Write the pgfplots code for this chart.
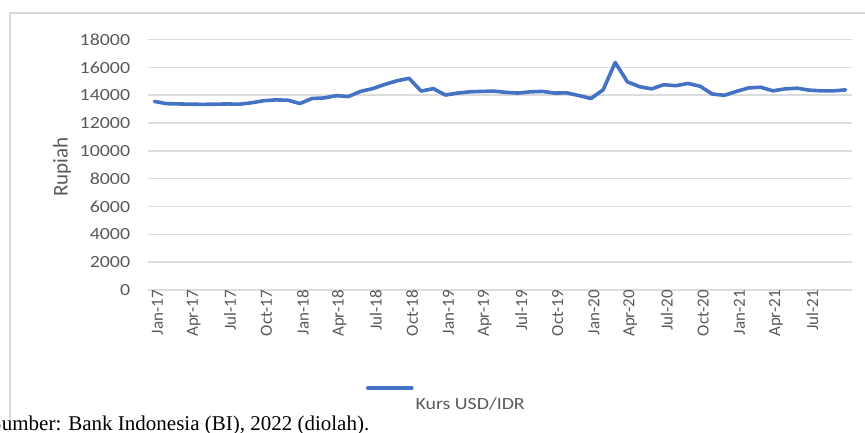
\documentclass[border=0pt]{standalone}
\usepackage{fontspec}
\setmainfont{Carlito}[FakeStretch=1.17]
\newfontfamily\rotfont{Carlito}
\newfontfamily\capfont{Liberation Serif}
\usepackage{pgfplots}
\pgfplotsset{compat=1.18}
\definecolor{xlblue}{HTML}{4472C4}
\definecolor{xlgrid}{HTML}{DCDCDC}
\definecolor{xltext}{HTML}{595959}
\definecolor{xlborder}{HTML}{D9D9D9}
\begin{document}
\begin{tikzpicture}[x=1pt,y=1pt]
\clip (0,0) rectangle (865,433);
\path (0,0) rectangle (865,433);
\draw[xlborder,line width=1.2pt] (10,14) -- (10,420) -- (870,420);
\begin{axis}[
  at={(148.3pt,143pt)}, anchor=south west,
  scale only axis, width=703.4pt, height=250.5pt,
  xmin=-0.5, xmax=57.5, ymin=0, ymax=18000,
  ytick={0,2000,...,18000},
  scaled y ticks=false,
  xtick={0,3,...,54},
  xticklabels={Jan-17,Apr-17,Jul-17,Oct-17,Jan-18,Apr-18,Jul-18,Oct-18,Jan-19,Apr-19,Jul-19,Oct-19,Jan-20,Apr-20,Jul-20,Oct-20,Jan-21,Apr-21,Jul-21},
  ymajorgrids,
  grid style={xlgrid,line width=1.5pt},
  axis line style={draw=none},
  major tick length=0pt,
  /pgf/number format/assume math mode=true,
  /pgf/number format/1000 sep={},
  /pgf/number format/fixed,
  yticklabel style={font=\fontsize{17}{17}\selectfont, text=xltext, anchor=east, inner sep=0pt, xshift=-18pt},
  xticklabel style={font=\rotfont\fontsize{17}{17}\selectfont, text=xltext, rotate=90, anchor=east, inner sep=0pt, yshift=-3pt},
  ylabel={Rupiah},
  ylabel style={font=\rotfont\fontsize{21}{21}\selectfont, text=xltext, at={(axis description cs:-0.1227,0.491)}, anchor=center},
  legend style={draw=none, fill=none, inner sep=0pt, outer sep=0pt,
    at={(axis description cs:0.3095,-0.455)}, anchor=west,
    font=\fontsize{17}{17}\selectfont, text=xltext,
    /tikz/every even column/.append style={column sep=8pt}},
  legend image code/.code={\draw[#1] (0pt,16pt) -- (44pt,16pt); \path (0pt,-16pt);},
]
\addplot[xlblue, line width=3.6pt, line join=round, line cap=round] coordinates {
(0,13550) (1,13390) (2,13370) (3,13350) (4,13340) (5,13350) (6,13370) (7,13350)
(8,13450) (9,13600) (10,13660) (11,13640) (12,13400) (13,13760) (14,13800) (15,13965)
(16,13900) (17,14270) (18,14470) (19,14770) (20,15030) (21,15210) (22,14290) (23,14470)
(24,14010) (25,14150) (26,14240) (27,14270) (28,14290) (29,14200) (30,14150) (31,14240)
(32,14270) (33,14150) (34,14170) (35,13970) (36,13760) (37,14380) (38,16350) (39,14960)
(40,14610) (41,14450) (42,14750) (43,14680) (44,14840) (45,14640) (46,14080) (47,13990)
(48,14270) (49,14520) (50,14570) (51,14310) (52,14450) (53,14500) (54,14360) (55,14310)
(56,14310) (57,14380)
};
\addlegendentry{Kurs USD/IDR}
\end{axis}
\node[anchor=base west, inner sep=0pt, font=\capfont\fontsize{21}{21}\selectfont] at (-10,2) {Sumber: Bank Indonesia (BI), 2022 (diolah).};
\end{tikzpicture}
\end{document}
